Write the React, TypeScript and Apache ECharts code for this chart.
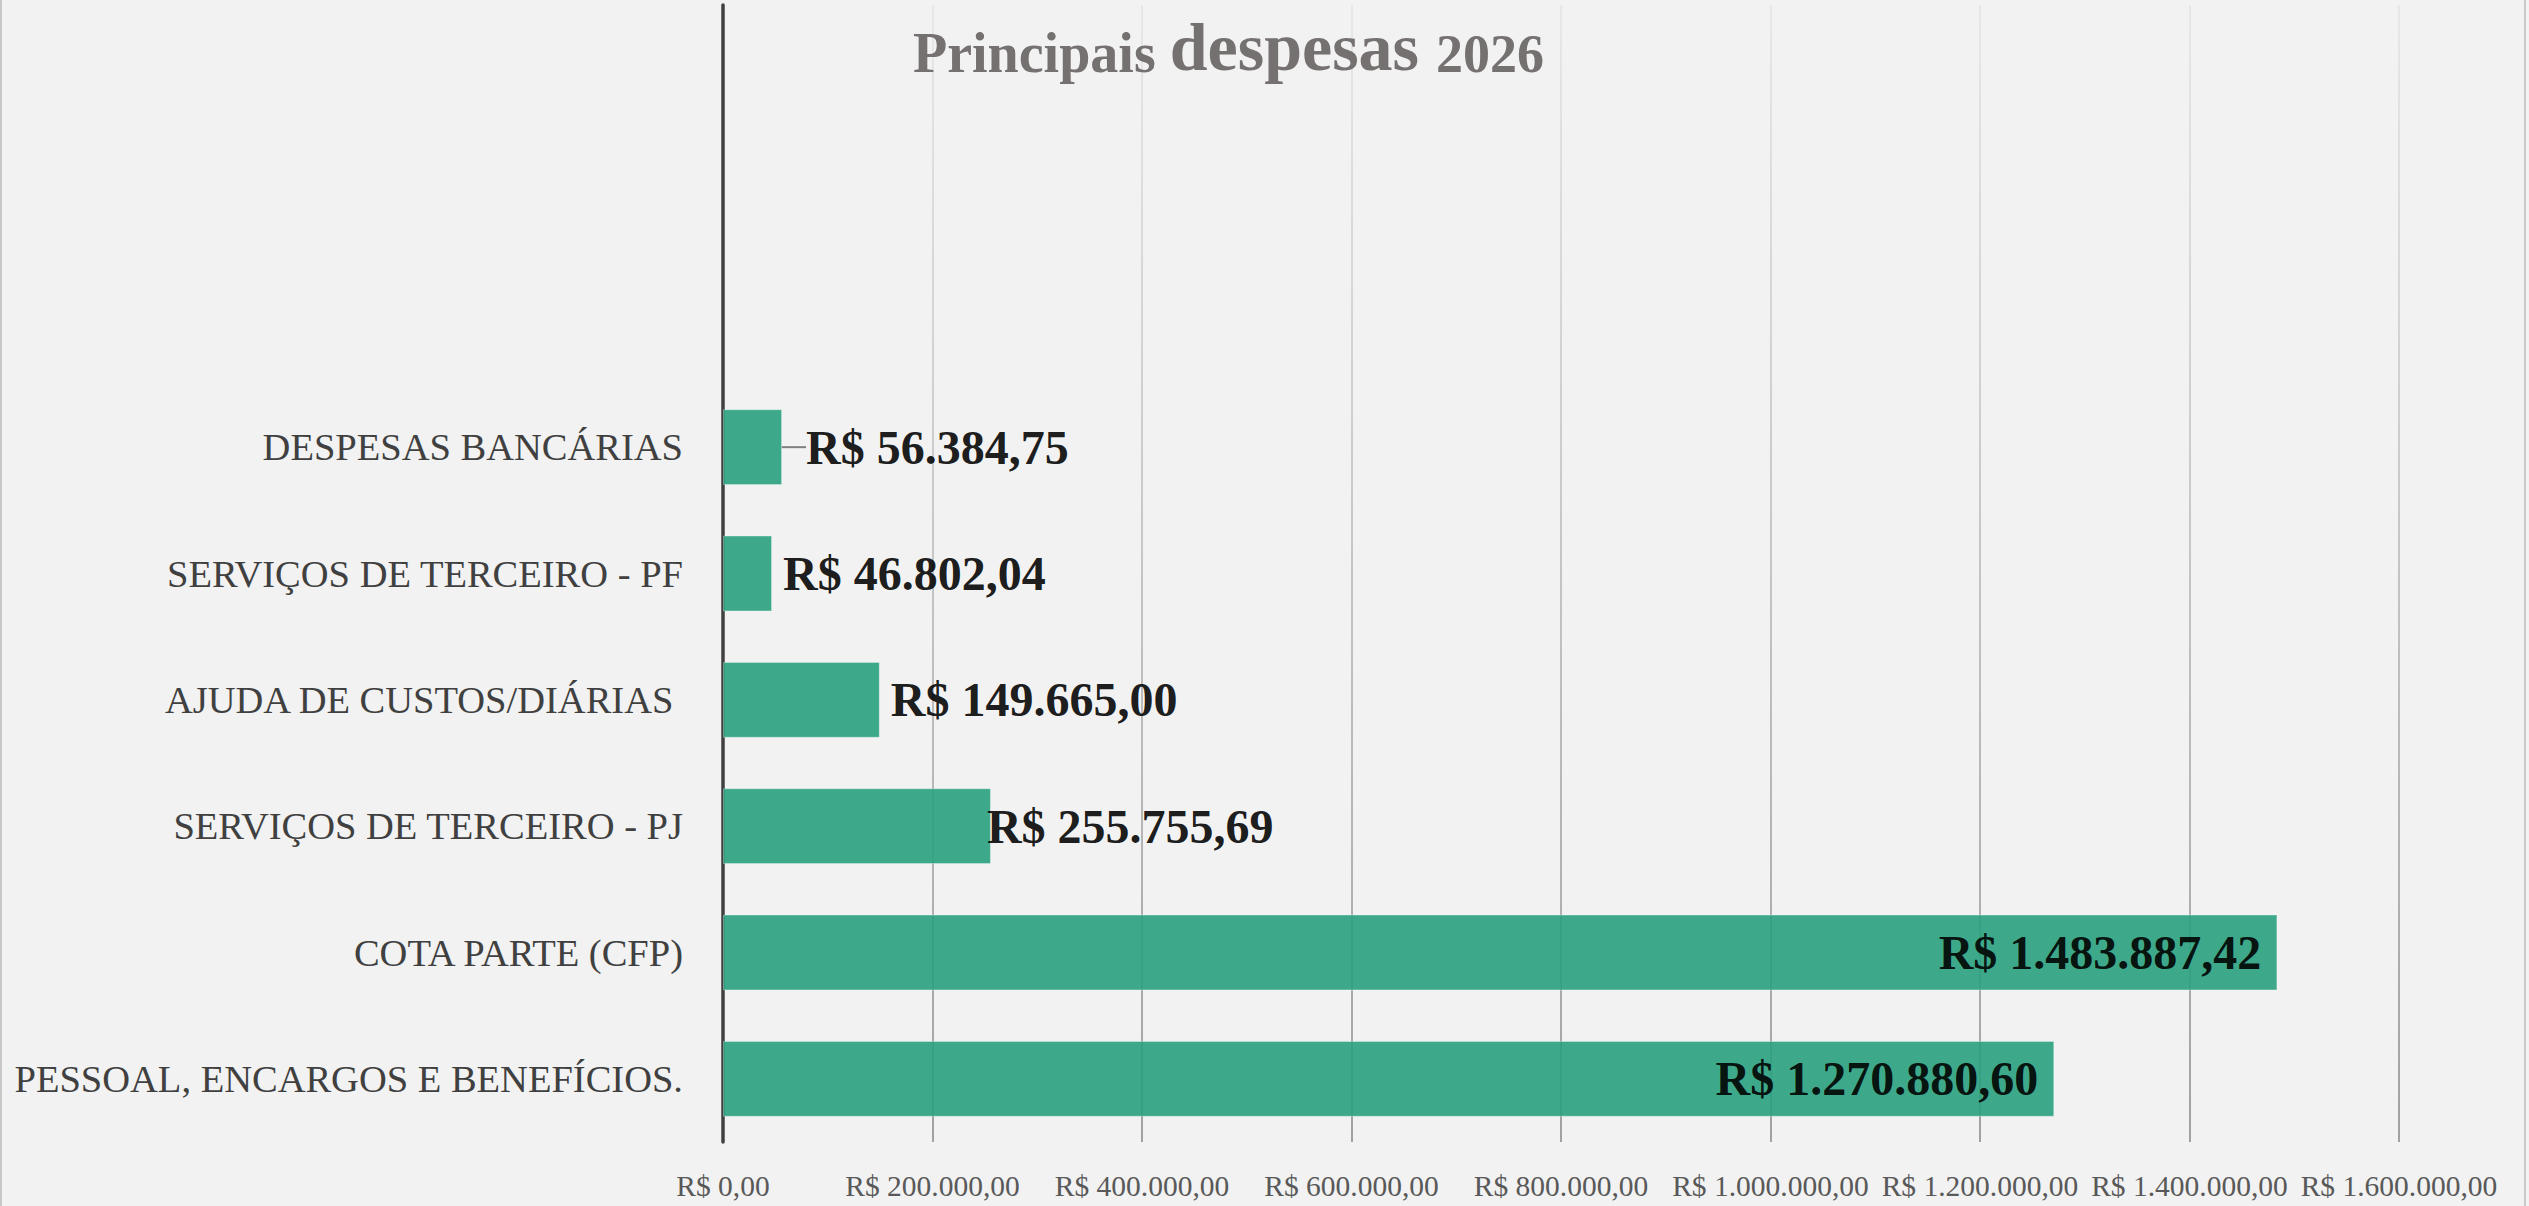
import React, { useEffect, useRef } from "react";
import * as echarts from "echarts";

// Data (bottom to top)
const categories = [
  "PESSOAL, ENCARGOS E BENEFÍCIOS.",
  "COTA PARTE (CFP)",
  "SERVIÇOS DE TERCEIRO - PJ",
  "AJUDA DE CUSTOS/DIÁRIAS ",
  "SERVIÇOS DE TERCEIRO - PF",
  "DESPESAS BANCÁRIAS",
  " ",
  "  ",
  "   ",
];
const values: (number | null)[] = [
  1270880.6,
  1483887.42,
  255755.69,
  149665.0,
  46802.04,
  56384.75,
  null,
  null,
  null,
];
const axisMin = 0;
const axisMax = 1600000;
const axisStep = 200000;
const titleParts = ["Principais", "despesas", "2026"];

const FONT = "'Liberation Serif', 'Times New Roman', serif";

function brl(v: number): string {
  const [i, d] = v.toFixed(2).split(".");
  return "R$ " + i.replace(/\B(?=(\d{3})+(?!\d))/g, ".") + "," + d;
}

export default function App() {
  const ref = useRef<HTMLDivElement>(null);
  useEffect(() => {
    if (!ref.current) return;
    const chart = echarts.init(ref.current, undefined, { renderer: "svg" });

    const labelFor = (idx: number, v: number | null) => {
      if (v == null) return { show: false };
      if (v > 1000000) return { position: "insideRight", distance: 16 };
      if (idx === 2) return { position: "right", distance: -4 };
      if (idx === 5) return { position: "right", distance: 6 };
      return { position: "right", distance: 11 };
    };

    const seriesData = values.map((v, idx) => {
      const item: any = { value: v, label: labelFor(idx, v) };
      if (idx === 5) {
        item.labelLine = { show: true, lineStyle: { color: "#7f7f7f", width: 2 } };
      }
      return item;
    });

    const titleToken = (size: number, lh: number) => ({
      fontSize: size,
      fontFamily: FONT,
      fontWeight: "bold",
      color: "#767171",
      verticalAlign: "bottom",
      lineHeight: lh,
    });

    chart.setOption({
      animation: false,
      backgroundColor: "#f2f2f2",
      title: {
        left: 913,
        top: 0,
        padding: 0,
        text: `{a|${titleParts[0]} }{b|${titleParts[1]} }{c|${titleParts[2]}}`,
        textStyle: {
          color: "#767171",
          fontFamily: FONT,
          fontWeight: "bold",
          rich: {
            a: titleToken(56, 74),
            b: titleToken(68, 81.2),
            c: titleToken(54, 72.8),
          },
        },
      },
      grid: { left: 723, right: 130, top: 5, bottom: 64, containLabel: false },
      xAxis: {
        type: "value",
        min: axisMin,
        max: axisMax,
        interval: axisStep,
        axisLine: { show: false },
        axisTick: { show: false },
        splitLine: {
          show: true,
          lineStyle: {
            width: 1.5,
            color: new echarts.graphic.LinearGradient(0, 5, 0, 1142, [
              { offset: 0, color: "#e4e4e4" },
              { offset: 1, color: "#868686" },
            ], true),
          },
        },
        axisLabel: {
          formatter: (v: number) => brl(v),
          fontFamily: FONT,
          fontSize: 29.5,
          color: "#595959",
          margin: 29,
          hideOverlap: false,
        },
      },
      yAxis: {
        type: "category",
        data: categories,
        axisLine: { show: true, lineStyle: { color: "#404040", width: 3.5 } },
        axisTick: { show: false },
        axisLabel: {
          fontFamily: FONT,
          fontSize: 38.5,
          color: "#404040",
          margin: 40,
        },
        splitLine: { show: false },
      },
      series: [
        {
          type: "bar",
          data: seriesData,
          barCategoryGap: "40%",
          itemStyle: {
            color: "rgb(41,161,126)",
            opacity: 0.9,
            borderColor: "rgba(255,255,255,0.35)",
            borderWidth: 1,
          },
          label: {
            show: true,
            formatter: (p: any) => brl(p.value),
            fontFamily: FONT,
            fontWeight: "bold",
            fontSize: 48,
            color: "#000000",
          },
          labelLayout: (p: any) => (p.dataIndex === 5 ? { dx: 18 } : {}),
          z: 3,
        },
      ],
      graphic: [
        { type: "line", shape: { x1: 1, y1: 0, x2: 1, y2: 1206 }, style: { stroke: "#c8c8c8", lineWidth: 2 } },
        { type: "line", shape: { x1: 2525, y1: 0, x2: 2525, y2: 1206 }, style: { stroke: "#c8c8c8", lineWidth: 2 } },
      ],
    });
    return () => chart.dispose();
  }, []);
  return (
    <div
      ref={ref}
      style={{ position: "fixed", left: 0, top: 0, width: 2529, height: 1206 }}
    />
  );
}
